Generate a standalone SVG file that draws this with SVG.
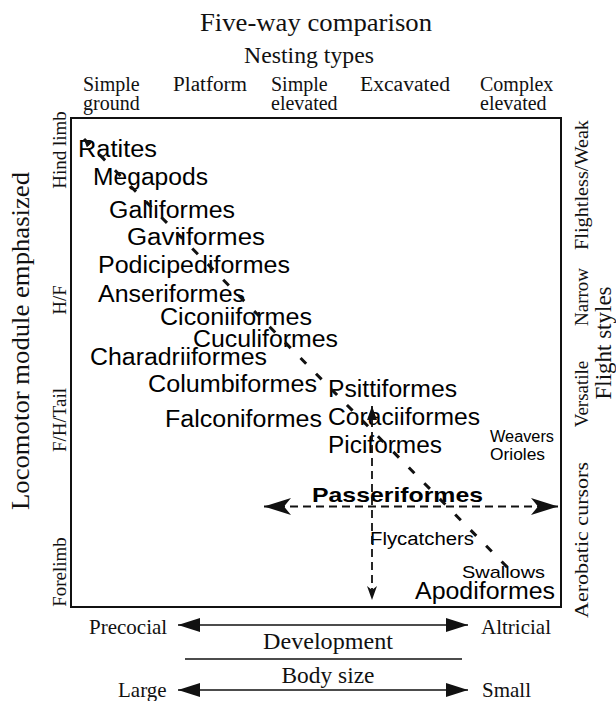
<svg xmlns="http://www.w3.org/2000/svg" width="616" height="701" viewBox="0 0 616 701">
<defs>
<style>
.serif{font-family:"Liberation Serif","Times New Roman",serif;fill:#111}
.sans{font-family:"Liberation Sans",Arial,sans-serif;fill:#000}
.node{font-size:23px}
.rot{font-size:19px;text-anchor:middle}
.solid{stroke:#111;stroke-width:1.6;fill:none}
.dash{stroke:#111;stroke-width:1.8;fill:none;stroke-dasharray:8 5}
.diag{stroke:#111;stroke-width:3;fill:none;stroke-dasharray:8 14}
</style>
<marker id="tri" markerUnits="userSpaceOnUse" markerWidth="24" markerHeight="16" refX="22" refY="7" orient="auto-start-reverse">
<path d="M0,0 L22,7 L0,14 Z" fill="#111"/>
</marker>
<marker id="swept" markerUnits="userSpaceOnUse" markerWidth="28" markerHeight="18" refX="27" refY="8.5" orient="auto-start-reverse">
<path d="M0,0 L27,8.5 L0,17 L7,8.5 Z" fill="#111"/>
</marker>
<marker id="sweptSmall" markerUnits="userSpaceOnUse" markerWidth="16" markerHeight="12" refX="14" refY="5" orient="auto-start-reverse">
<path d="M0,0 L14,5 L0,10 L4,5 Z" fill="#111"/>
</marker>
<marker id="triSmall" markerUnits="userSpaceOnUse" markerWidth="16" markerHeight="12" refX="14" refY="5" orient="auto-start-reverse">
<path d="M0,0 L14,5 L0,10 Z" fill="#111"/>
</marker>
<marker id="tiny" markerUnits="userSpaceOnUse" markerWidth="10" markerHeight="10" refX="8" refY="4" orient="auto-start-reverse">
<path d="M0,0 L8,4 L0,8 Z" fill="#111"/>
</marker>
</defs>
<rect width="616" height="701" fill="#fff"/>

<g id="titles" class="serif">
<text x="316" y="31" font-size="26" text-anchor="middle" textLength="232" lengthAdjust="spacingAndGlyphs">Five-way comparison</text>
<text x="309" y="63" font-size="23" text-anchor="middle" textLength="130" lengthAdjust="spacingAndGlyphs">Nesting types</text>
</g>

<g id="nesting-headers" class="serif" font-size="20">
<text x="83" y="91">Simple</text>
<text x="83" y="110">ground</text>
<text x="173" y="91" textLength="74" lengthAdjust="spacingAndGlyphs">Platform</text>
<text x="271" y="91">Simple</text>
<text x="271" y="110">elevated</text>
<text x="360" y="91" textLength="90" lengthAdjust="spacingAndGlyphs">Excavated</text>
<text x="480" y="91">Complex</text>
<text x="480" y="110">elevated</text>
</g>

<g id="frame">
<rect x="71" y="118" width="490" height="489" fill="none" stroke="#111" stroke-width="2"/>
</g>

<g id="locomotor-axis" class="serif">
<text transform="translate(29,341) rotate(-90)" font-size="25" text-anchor="middle" textLength="338" lengthAdjust="spacingAndGlyphs">Locomotor module emphasized</text>
<text class="rot" transform="translate(66,150) rotate(-90)">Hind limb</text>
<text class="rot" transform="translate(66,300) rotate(-90)">H/F</text>
<text class="rot" transform="translate(66,420) rotate(-90)">F/H/Tail</text>
<text class="rot" transform="translate(66,572) rotate(-90)">Forelimb</text>
</g>

<g id="flight-axis" class="serif">
<text class="rot" transform="translate(588,185) rotate(-90)" textLength="130" lengthAdjust="spacingAndGlyphs">Flightless/Weak</text>
<text class="rot" transform="translate(588,297) rotate(-90)">Narrow</text>
<text class="rot" transform="translate(588,394) rotate(-90)">Versatile</text>
<text class="rot" transform="translate(588,540) rotate(-90)" textLength="156" lengthAdjust="spacingAndGlyphs">Aerobatic cursors</text>
<text transform="translate(611,343) rotate(-90)" font-size="23" text-anchor="middle">Flight styles</text>
</g>

<g id="n-ratites" class="sans node"><text x="78" y="157" textLength="79" lengthAdjust="spacingAndGlyphs">Ratites</text></g>
<g id="n-megapods" class="sans node"><text x="93" y="185" textLength="115" lengthAdjust="spacingAndGlyphs">Megapods</text></g>
<g id="n-galliformes" class="sans node"><text x="109" y="218" textLength="126" lengthAdjust="spacingAndGlyphs">Galliformes</text></g>
<g id="n-gaviiformes" class="sans node"><text x="127" y="245" textLength="138" lengthAdjust="spacingAndGlyphs">Gaviiformes</text></g>
<g id="n-podicipediformes" class="sans node"><text x="98" y="273" textLength="192" lengthAdjust="spacingAndGlyphs">Podicipediformes</text></g>
<g id="n-anseriformes" class="sans node"><text x="98" y="302" textLength="147" lengthAdjust="spacingAndGlyphs">Anseriformes</text></g>
<g id="n-ciconiiformes" class="sans node"><text x="160" y="325" textLength="152" lengthAdjust="spacingAndGlyphs">Ciconiiformes</text></g>
<g id="n-cuculiformes" class="sans node"><text x="193" y="347" textLength="145" lengthAdjust="spacingAndGlyphs">Cuculiformes</text></g>
<g id="n-charadriiformes" class="sans node"><text x="90" y="365" textLength="177" lengthAdjust="spacingAndGlyphs">Charadriiformes</text></g>
<g id="n-columbiformes" class="sans node"><text x="148" y="392" textLength="169" lengthAdjust="spacingAndGlyphs">Columbiformes</text></g>
<g id="n-psittiformes" class="sans node"><text x="328" y="397" textLength="129" lengthAdjust="spacingAndGlyphs">Psittiformes</text></g>
<g id="n-falconiformes" class="sans node"><text x="165" y="427" textLength="157" lengthAdjust="spacingAndGlyphs">Falconiformes</text></g>
<g id="n-coraciiformes" class="sans node"><text x="328" y="425" textLength="152" lengthAdjust="spacingAndGlyphs">Coraciiformes</text></g>
<g id="n-piciformes" class="sans node"><text x="328" y="453" textLength="114" lengthAdjust="spacingAndGlyphs">Piciformes</text></g>
<g id="n-weavers-orioles" class="sans" font-size="16">
<text x="490" y="442" textLength="64" lengthAdjust="spacingAndGlyphs">Weavers</text>
<text x="490" y="460" textLength="55" lengthAdjust="spacingAndGlyphs">Orioles</text>
</g>
<g id="n-passeriformes" class="sans"><text x="312" y="502" font-size="21" font-weight="bold" textLength="171" lengthAdjust="spacingAndGlyphs">Passeriformes</text></g>
<g id="n-flycatchers" class="sans"><text x="370" y="545" font-size="18" textLength="104" lengthAdjust="spacingAndGlyphs">Flycatchers</text></g>
<g id="n-swallows" class="sans"><text x="462" y="578" font-size="17" textLength="83" lengthAdjust="spacingAndGlyphs">Swallows</text></g>
<g id="n-apodiformes" class="sans node"><text x="415" y="599" textLength="140" lengthAdjust="spacingAndGlyphs">Apodiformes</text></g>

<g id="bottom-axes" class="serif" font-size="21">
<text x="89" y="634">Precocial</text>
<text x="481" y="634">Altricial</text>
<text x="328" y="649" font-size="23" text-anchor="middle" textLength="130" lengthAdjust="spacingAndGlyphs">Development</text>
<text x="328" y="683" font-size="23" text-anchor="middle" textLength="93" lengthAdjust="spacingAndGlyphs">Body size</text>
<text x="118" y="697">Large</text>
<text x="482" y="697">Small</text>
</g>

<g id="connectors">
<line class="diag" x1="84" y1="139" x2="515" y2="575" marker-start="url(#tiny)"/>
<line class="dash" x1="372" y1="406" x2="372" y2="600" marker-start="url(#triSmall)" marker-end="url(#sweptSmall)"/>
<line class="dash" x1="264" y1="506.5" x2="558" y2="506.5" marker-start="url(#swept)" marker-end="url(#swept)"/>
<line class="solid" x1="178" y1="625" x2="468" y2="625" marker-start="url(#tri)" marker-end="url(#tri)"/>
<line class="solid" x1="185" y1="659" x2="462" y2="659"/>
<line class="solid" x1="178" y1="690" x2="468" y2="690" marker-start="url(#tri)" marker-end="url(#tri)"/>
</g>
</svg>
